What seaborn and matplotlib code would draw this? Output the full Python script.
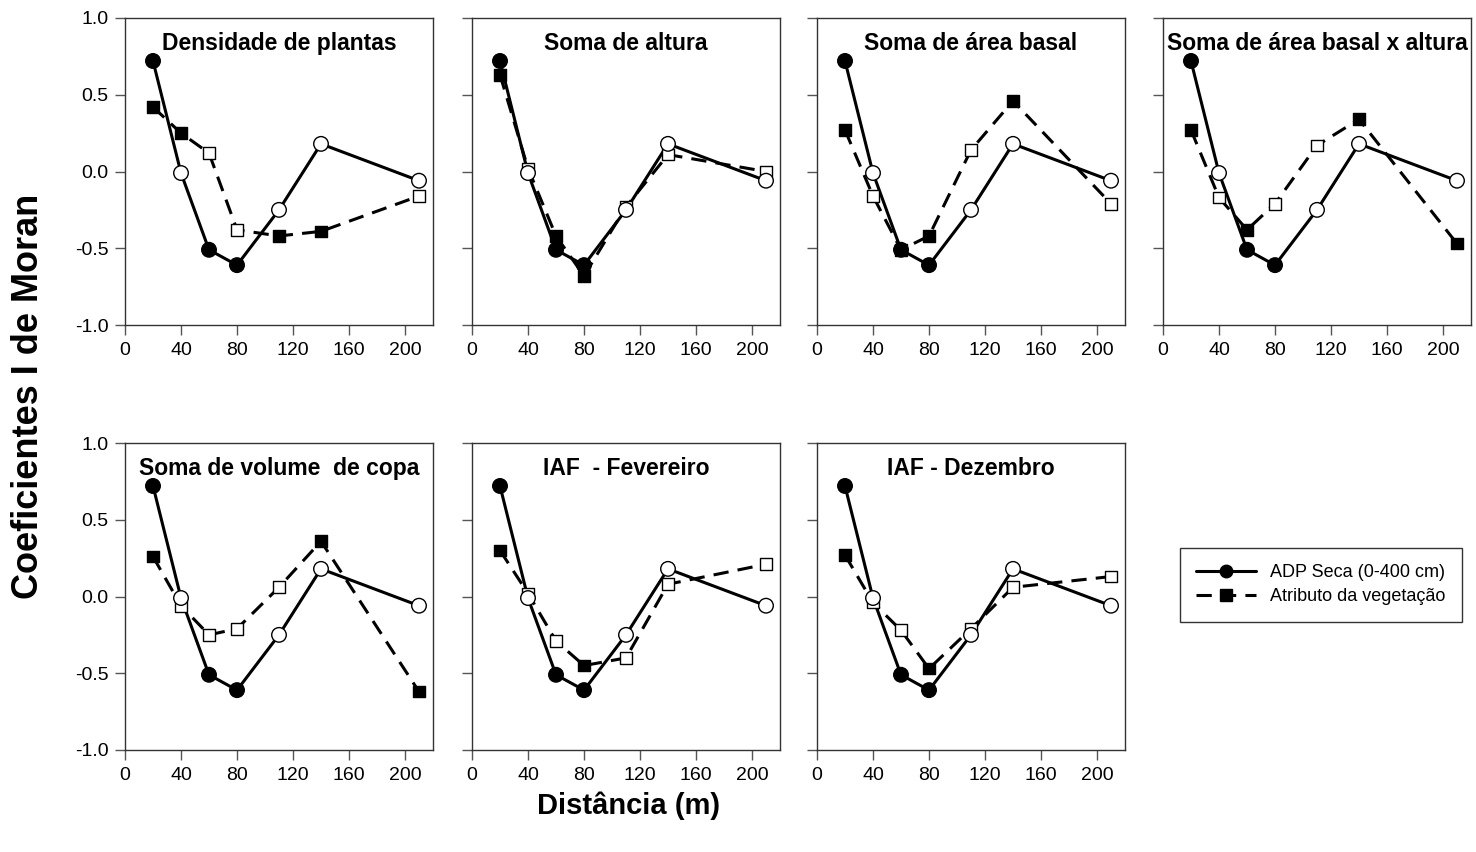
import numpy as np
import pandas as pd
import matplotlib
matplotlib.use("Agg")
import matplotlib.pyplot as plt
from matplotlib.lines import Line2D
import seaborn as sns

# Lag distances (m)
distancia = [20, 40, 60, 80, 110, 140, 210]

# Moran's I for ADP Seca (0-400 cm) -- same in every panel
adp = [0.72, -0.01, -0.51, -0.61, -0.25, 0.18, -0.06]
adp_sig = [True, False, True, True, False, False, False]

# Vegetation attributes
titulos = ["Densidade de plantas", "Soma de altura", "Soma de área basal",
           "Soma de área basal x altura", "Soma de volume  de copa",
           "IAF  - Fevereiro", "IAF - Dezembro"]

veg_densidade = [0.42, 0.25, 0.12, -0.38, -0.42, -0.39, -0.16]
veg_altura = [0.63, 0.02, -0.42, -0.68, -0.23, 0.11, 0.00]
veg_area = [0.27, -0.16, -0.51, -0.42, 0.14, 0.46, -0.21]
veg_area_alt = [0.27, -0.17, -0.38, -0.21, 0.17, 0.34, -0.47]
veg_volume = [0.26, -0.06, -0.25, -0.21, 0.06, 0.36, -0.62]
veg_iaf_fev = [0.30, 0.02, -0.29, -0.45, -0.40, 0.08, 0.21]
veg_iaf_dez = [0.27, -0.04, -0.22, -0.47, -0.21, 0.06, 0.13]

sig_densidade = [True, True, False, False, True, True, False]
sig_altura = [True, False, True, True, False, False, False]
sig_area = [True, False, True, True, False, True, False]
sig_area_alt = [True, False, True, False, False, True, True]
sig_volume = [True, False, False, False, False, True, True]
sig_iaf_fev = [True, False, False, True, False, False, False]
sig_iaf_dez = [True, False, False, True, False, False, False]

veg_vals = [veg_densidade, veg_altura, veg_area, veg_area_alt,
            veg_volume, veg_iaf_fev, veg_iaf_dez]
veg_sigs = [sig_densidade, sig_altura, sig_area, sig_area_alt,
            sig_volume, sig_iaf_fev, sig_iaf_dez]

y_ticks = [-1.0, -0.5, 0.0, 0.5, 1.0]
y_ticklabels = ["-1.0", "-0.5", "0.0", "0.5", "1.0"]
x_ticks = [0, 40, 80, 120, 160, 200]

sns.set_theme(style="white")
plt.rcParams["font.family"] = ["Liberation Sans", "DejaVu Sans"]
plt.rcParams["axes.unicode_minus"] = False
plt.rcParams["text.color"] = "black"
plt.rcParams["xtick.labelcolor"] = "black"
plt.rcParams["ytick.labelcolor"] = "black"

W, H = 1476, 852
fig = plt.figure(figsize=(W / 100, H / 100), dpi=100)

# panel positions in pixels (left, top)
lefts = [125, 472, 817, 1163]
tops = [18, 443]
pw, ph = 308, 307

pal = {True: "black", False: "white"}

for i, (titulo, vals, sigs) in enumerate(zip(titulos, veg_vals, veg_sigs)):
    row, col = divmod(i, 4)
    l, t = lefts[col], tops[row]
    ax = fig.add_axes([l / W, 1 - (t + ph) / H, pw / W, ph / H])

    df_adp = pd.DataFrame({"x": distancia, "y": adp, "sig": adp_sig})
    df_veg = pd.DataFrame({"x": distancia, "y": vals, "sig": sigs})

    sns.lineplot(data=df_veg, x="x", y="y", ax=ax, color="black", lw=2.2,
                 sort=False, zorder=2).lines[-1].set_dashes((5, 3))
    sns.lineplot(data=df_adp, x="x", y="y", ax=ax, color="black", lw=2.2,
                 sort=False, zorder=2)
    sns.scatterplot(data=df_veg, x="x", y="y", hue="sig", palette=pal, marker="s",
                    s=70, edgecolor="black", linewidth=1, legend=False, ax=ax, zorder=3)
    sns.scatterplot(data=df_adp, x="x", y="y", hue="sig", palette=pal, marker="o",
                    s=110, edgecolor="black", linewidth=1, legend=False, ax=ax, zorder=4)

    ax.set_xlim(0, 220)
    ax.set_ylim(-1.0, 1.0)
    ax.set_xticks(x_ticks)
    ax.set_xticklabels([str(v) for v in x_ticks])
    ax.set_yticks(y_ticks)
    if col == 0:
        ax.set_yticklabels(y_ticklabels)
    else:
        ax.set_yticklabels([])
    ax.set_xlabel("")
    ax.set_ylabel("")
    ax.tick_params(direction="out", length=7, width=1, color="#555555",
                   labelsize=14, labelcolor="black", pad=5, bottom=True, left=True)
    for sp in ax.spines.values():
        sp.set_color("#333333")
        sp.set_linewidth(1.0)
    ax.text(0.5, 0.955, titulo, transform=ax.transAxes, ha="center", va="top",
            fontsize=16.5, fontweight="bold", color="black")

fig.text(29 / W, 1 - 396 / H, "Coeficientes I de Moran", rotation=90,
         ha="center", va="center", fontsize=26, fontweight="bold", color="black")
fig.text(629 / W, 1 - 806 / H, "Distância (m)", ha="center", va="center",
         fontsize=21, fontweight="bold", color="black")

handles = [
    Line2D([], [], color="black", lw=2.2, marker="o", markersize=9,
           markerfacecolor="black", markeredgecolor="black"),
    Line2D([], [], color="black", lw=2.2, ls=(0, (5, 3)), marker="s", markersize=8,
           markerfacecolor="black", markeredgecolor="black"),
]
leg = fig.legend(handles, ["ADP Seca (0-400 cm)", "Atributo da vegetação"],
                 loc="upper left", bbox_to_anchor=(1180 / W, 1 - 548 / H),
                 borderaxespad=0, fontsize=13, frameon=True, fancybox=False,
                 handlelength=3.3, borderpad=0.9, labelspacing=0.4,
                 handletextpad=0.8)
leg.get_frame().set_edgecolor("black")
leg.get_frame().set_linewidth(1.0)
for txt in leg.get_texts():
    txt.set_color("black")

fig.savefig("out.png", dpi=100)
